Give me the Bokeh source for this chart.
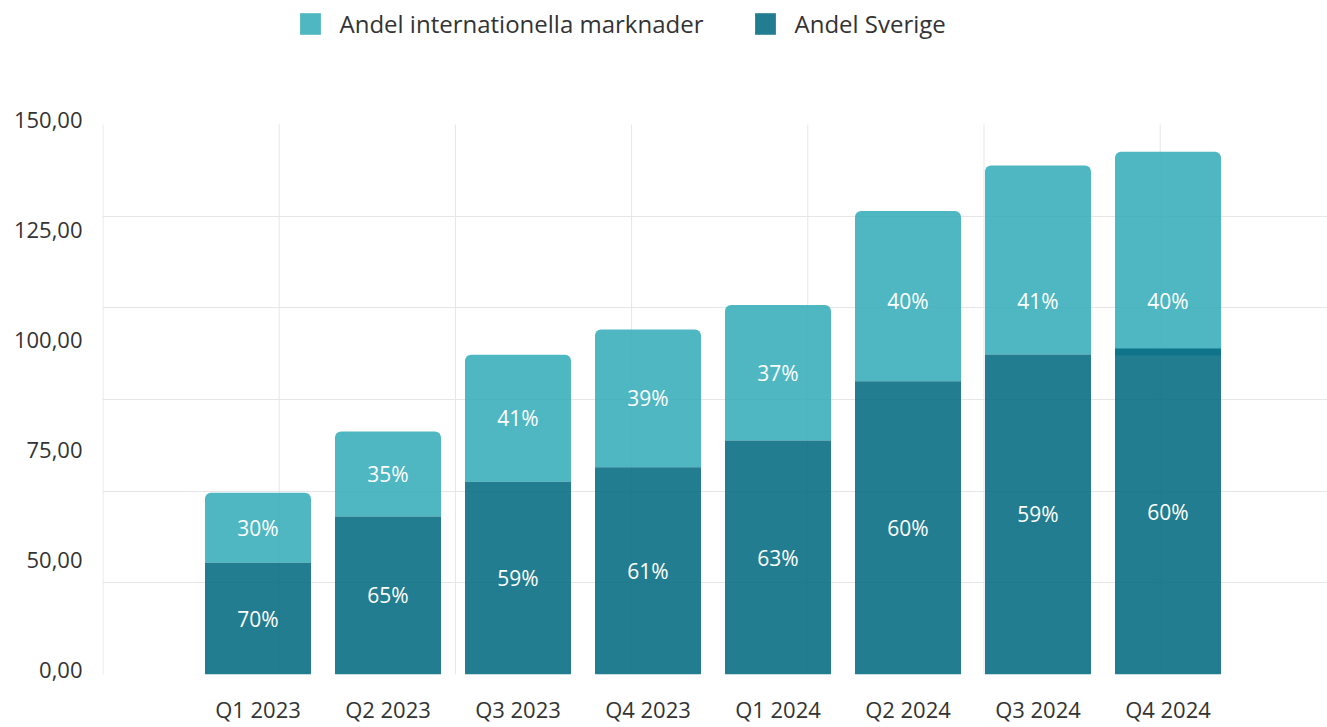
from bokeh.plotting import figure
from bokeh.models import Range1d, FixedTicker, ColumnDataSource, Legend, LegendItem
from bokeh.core.properties import value
from bokeh.embed import file_html
from bokeh.resources import INLINE

# ---- data ----
quarters = ["Q1 2023", "Q2 2023", "Q3 2023", "Q4 2023",
            "Q1 2024", "Q2 2024", "Q3 2024", "Q4 2024"]
sverige = [30.5, 43.1, 52.6, 56.5, 63.8, 80.0, 87.3, 88.9]          # top of dark segment
intl_base = [30.5, 43.1, 52.6, 56.5, 63.8, 80.0, 87.3, 87.0]        # bottom of light segment
totalt = [49.6, 66.3, 87.2, 94.1, 100.8, 126.4, 138.8, 142.6]       # top of light segment
andel_sverige = ["70%", "65%", "59%", "61%", "63%", "60%", "59%", "60%"]
andel_intl = ["30%", "35%", "41%", "39%", "37%", "40%", "41%", "40%"]
y_ticks = [0, 30, 60, 90, 120, 150]
y_tick_labels = ["0,00", "50,00", "75,00", "100,00", "125,00", "150,00"]
grid_values = [0, 25, 50, 75, 100, 125]

# ---- style ----
FONT = "Open Sans"
TXT = "#333333"
LIGHT = "#36adb9"
DARK = "#046b81"
ALPHA = 0.88
W, H = 1327, 727
LEFT, BOTTOM = 102, 53
PX_PER_X = 130.0
FIRST_CENTER = 257.0
PX_PER_Y = 550.0 / 150.0
Y_LABEL_LIFT = 5.0 / PX_PER_Y   # y tick labels sit a few pixels above their values

frame_h = H - BOTTOM
frame_w = W - LEFT
x_start = -(FIRST_CENTER - LEFT + 0.5) / PX_PER_X
x_end = x_start + frame_w / PX_PER_X
y_end = frame_h / PX_PER_Y

xs = list(range(len(quarters)))

p = figure(width=W, height=H, output_backend="svg", toolbar_location=None,
           x_range=Range1d(x_start, x_end), y_range=Range1d(0, y_end),
           min_border_left=LEFT, min_border_right=0, min_border_top=0,
           min_border_bottom=BOTTOM)
p.outline_line_color = None
p.background_fill_color = "white"
p.border_fill_color = "white"

# grid
p.xgrid.visible = False
p.ygrid.ticker = FixedTicker(ticks=grid_values)
p.ygrid.grid_line_color = "#e6e6e6"
p.ygrid.grid_line_width = 1

step = 176.2 / PX_PER_X
vx = [x_start + 0.5 / PX_PER_X + k * step for k in range(7)]
p.segment(x0=vx, x1=vx, y0=[0] * len(vx), y1=[150] * len(vx),
          line_color="#e6e6e6", line_width=1)

# bars
bw = 106.0 / PX_PER_X
light_src = ColumnDataSource(dict(x=xs, bottom=intl_base, top=totalt))
dark_src = ColumnDataSource(dict(x=xs, top=sverige))
r_l = p.vbar(x="x", bottom="bottom", top="top", width=bw, source=light_src,
             fill_color=LIGHT, fill_alpha=ALPHA, line_color=None,
             border_radius=(6, 6, 0, 0))
r_d = p.vbar(x="x", bottom=0, top="top", width=bw, source=dark_src,
             fill_color=DARK, fill_alpha=ALPHA, line_color=None)

# labels
dark_y = [s / 2 for s in sverige]
light_y = [min((b + t) / 2, 102.0) for b, t in zip(intl_base, totalt)]
p.text(x=xs, y=dark_y, text=andel_sverige, text_color="white",
       text_font=value(FONT), text_font_size="21px",
       text_align="center", text_baseline="middle")
p.text(x=xs, y=light_y, text=andel_intl, text_color="white",
       text_font=value(FONT), text_font_size="21px",
       text_align="center", text_baseline="middle")

# legend
legend = Legend(items=[LegendItem(label="Andel internationella marknader", renderers=[r_l]),
                       LegendItem(label="Andel Sverige", renderers=[r_d])],
                orientation="horizontal", location=(300 - 3.5 - LEFT, frame_h - 40),
                padding=14, margin=0, spacing=28, label_standoff=17,
                glyph_width=26, glyph_height=27, label_height=22, label_width=384,
                label_text_font=FONT, label_text_font_size="24px",
                label_text_color=TXT, border_line_color=None,
                background_fill_alpha=0)
p.add_layout(legend)

# axes
p.xaxis.ticker = FixedTicker(ticks=xs)
p.xaxis.major_label_overrides = {i: q for i, q in enumerate(quarters)}
p.xaxis.axis_line_color = None
p.xaxis.major_tick_line_color = None
p.xaxis.minor_tick_line_color = None
p.xaxis.major_label_text_font = FONT
p.xaxis.major_label_text_font_size = "22px"
p.xaxis.major_label_text_color = TXT
p.xaxis.major_label_standoff = 13

y_label_pos = [t + Y_LABEL_LIFT for t in y_ticks]
p.yaxis.ticker = FixedTicker(ticks=y_label_pos)
p.yaxis.major_label_overrides = {yp: l for yp, l in zip(y_label_pos, y_tick_labels)}
p.yaxis.axis_line_color = None
p.yaxis.major_tick_line_color = None
p.yaxis.minor_tick_line_color = None
p.yaxis.major_label_text_font = FONT
p.yaxis.major_label_text_font_size = "22px"
p.yaxis.major_label_text_color = TXT
p.yaxis.major_label_standoff = 14

open("out.html", "w").write(file_html(p, INLINE))
